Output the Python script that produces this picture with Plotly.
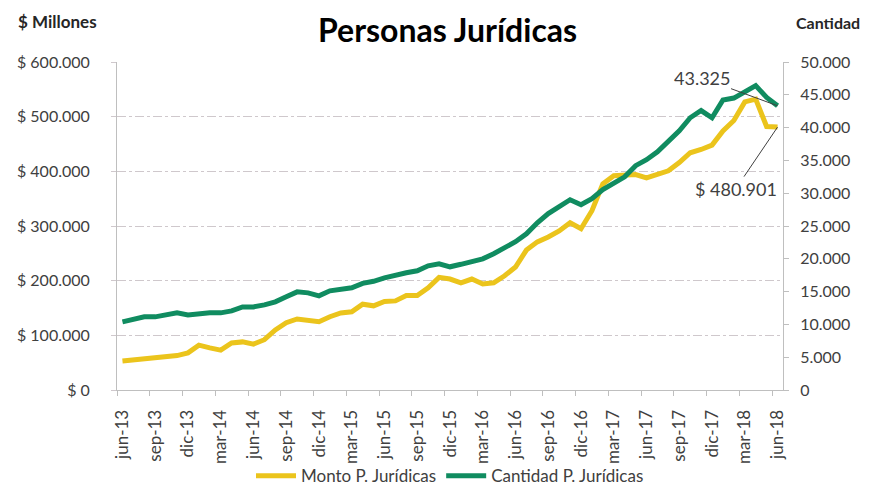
import plotly.graph_objects as go

months = ["jun-13","jul-13","ago-13","sep-13","oct-13","nov-13","dic-13","ene-14","feb-14","mar-14","abr-14","may-14",
          "jun-14","jul-14","ago-14","sep-14","oct-14","nov-14","dic-14","ene-15","feb-15","mar-15","abr-15","may-15",
          "jun-15","jul-15","ago-15","sep-15","oct-15","nov-15","dic-15","ene-16","feb-16","mar-16","abr-16","may-16",
          "jun-16","jul-16","ago-16","sep-16","oct-16","nov-16","dic-16","ene-17","feb-17","mar-17","abr-17","may-17",
          "jun-17","jul-17","ago-17","sep-17","oct-17","nov-17","dic-17","ene-18","feb-18","mar-18","abr-18","may-18",
          "jun-18"]

# Monto P. Jurídicas ($ millones)
monto = [53000, 55000, 57000, 59000, 61000, 63000, 68000, 82000, 77000, 73000, 86000, 88000,
         84000, 92000, 110000, 123000, 130000, 128000, 125000, 134000, 141000, 143000, 157000, 154000,
         162000, 163000, 173000, 173000, 187000, 206000, 203000, 196000, 203000, 194000, 196000, 209000,
         225000, 256000, 271000, 280000, 291000, 306000, 295000, 328000, 377000, 392000, 394000, 394000,
         388000, 394000, 401000, 416000, 434000, 440000, 448000, 474000, 493000, 527000, 532000, 482000,
         480901]

# Cantidad P. Jurídicas
cantidad = [10380, 10690, 11150, 11150, 11450, 11760, 11450, 11680, 11760, 11760, 12060, 12670,
            12670, 12980, 13440, 14200, 14960, 14810, 14350, 15120, 15420, 15580, 16260, 16570,
            17100, 17560, 17870, 18170, 18930, 19240, 18780, 19160, 19550, 20000, 20770, 21680,
            22600, 23800, 25500, 26900, 27900, 29000, 28250, 29170, 30540, 31460, 32500, 34200,
            35100, 36300, 38000, 39500, 41500, 42600, 41500, 44200, 44500, 45400, 46400, 44600,
            43325]

left_vals = [0, 100000, 200000, 300000, 400000, 500000, 600000]
left_text = ["$ 0", "$ 100.000", "$ 200.000", "$ 300.000", "$ 400.000", "$ 500.000", "$ 600.000"]
right_vals = [0, 5000, 10000, 15000, 20000, 25000, 30000, 35000, 40000, 45000, 50000]
right_text = ["0", "5.000", "10.000", "15.000", "20.000", "25.000", "30.000", "35.000", "40.000", "45.000", "50.000"]

YELLOW = "#EBC41C"
GREEN = "#108C60"
FONT = "Lato"
TXT = "#404040"
GRID = "#CFC8CC"

x = list(range(len(months)))
xt_vals = x[::3]
xt_text = months[::3]

fig = go.Figure()
fig.add_trace(go.Scatter(x=x, y=monto, mode="lines", name="Monto P. Jurídicas",
                         line=dict(color=YELLOW, width=5), yaxis="y"))
fig.add_trace(go.Scatter(x=x, y=cantidad, mode="lines", name="Cantidad P. Jurídicas",
                         line=dict(color=GREEN, width=5), yaxis="y2"))

fig.update_layout(
    width=856, height=479,
    margin=dict(l=109, r=81, t=54, b=97, autoexpand=False),
    paper_bgcolor="white", plot_bgcolor="white",
    font=dict(family=FONT, color=TXT, size=17),
    showlegend=True,
    legend=dict(orientation="h", x=0.5, xanchor="center", y=(390 - 476) / 327.7, yanchor="middle",
                bgcolor="rgba(0,0,0,0)", borderwidth=0,
                font=dict(size=17, color=TXT), itemwidth=40, tracegroupgap=0),
    xaxis=dict(range=[-0.5, 60.5], tickmode="array", tickvals=xt_vals, ticktext=xt_text,
               tickangle=-90, ticks="", showgrid=False, zeroline=False, automargin=False,
               showline=True, linecolor="#BFBFBF", linewidth=1,
               ticklabelstandoff=12, tickfont=dict(size=17, color=TXT),
               minor=dict(tickmode="linear", tick0=-0.5, dtick=3, ticks="outside",
                          ticklen=5, tickcolor="#BFBFBF", showgrid=False)),
    yaxis=dict(range=[0, 600000], tickmode="array", tickvals=left_vals, ticktext=left_text,
               showgrid=True, gridcolor=GRID, griddash="dashdot", gridwidth=1,
               zeroline=False, showline=True, linecolor="#BFBFBF", linewidth=1, automargin=False,
               ticks="outside", ticklen=5, tickcolor=GRID,
               ticklabelstandoff=18, tickfont=dict(size=16, color=TXT)),
    yaxis2=dict(range=[0, 50000], overlaying="y", side="right", tickmode="array",
                tickvals=right_vals, ticktext=right_text, showgrid=False, zeroline=False,
                showline=True, linecolor="#BFBFBF", linewidth=1, automargin=False,
                ticks="outside", ticklen=5, tickcolor="#BFBFBF",
                ticklabelstandoff=8, tickfont=dict(size=16, color=TXT)),
)

fig.add_annotation(text="<b>Personas Jurídicas</b>", xref="paper", yref="paper",
                   x=0.4955, y=(390 - 8) / 327.7, xanchor="center", yanchor="top",
                   showarrow=False, font=dict(size=32, color="#000000", family=FONT))
fig.add_annotation(text="<b>$ Millones</b>", xref="paper", yref="paper",
                   x=(16 - 117) / 666, y=(390 - 22) / 327.7, xanchor="left", yanchor="middle",
                   showarrow=False, font=dict(size=17, color="#262626", family=FONT))
fig.add_annotation(text="<b>Cantidad</b>", xref="paper", yref="paper",
                   x=(862 - 117) / 666, y=(390 - 23) / 327.7, xanchor="right", yanchor="middle",
                   showarrow=False, font=dict(size=16, color="#262626", family=FONT))

fig.add_annotation(text="43.325", x=x[-1], y=cantidad[-1], xref="x", yref="y2",
                   ax=-76, ay=-28, showarrow=True, arrowhead=0, arrowwidth=1,
                   arrowcolor="#404040", font=dict(size=18, color=TXT, family=FONT))
fig.add_annotation(text="$ 480.901", x=x[-1], y=monto[-1], xref="x", yref="y",
                   ax=-42, ay=62, showarrow=True, arrowhead=0, arrowwidth=1,
                   arrowcolor="#404040", font=dict(size=18, color=TXT, family=FONT))

fig.write_html("out.html")
